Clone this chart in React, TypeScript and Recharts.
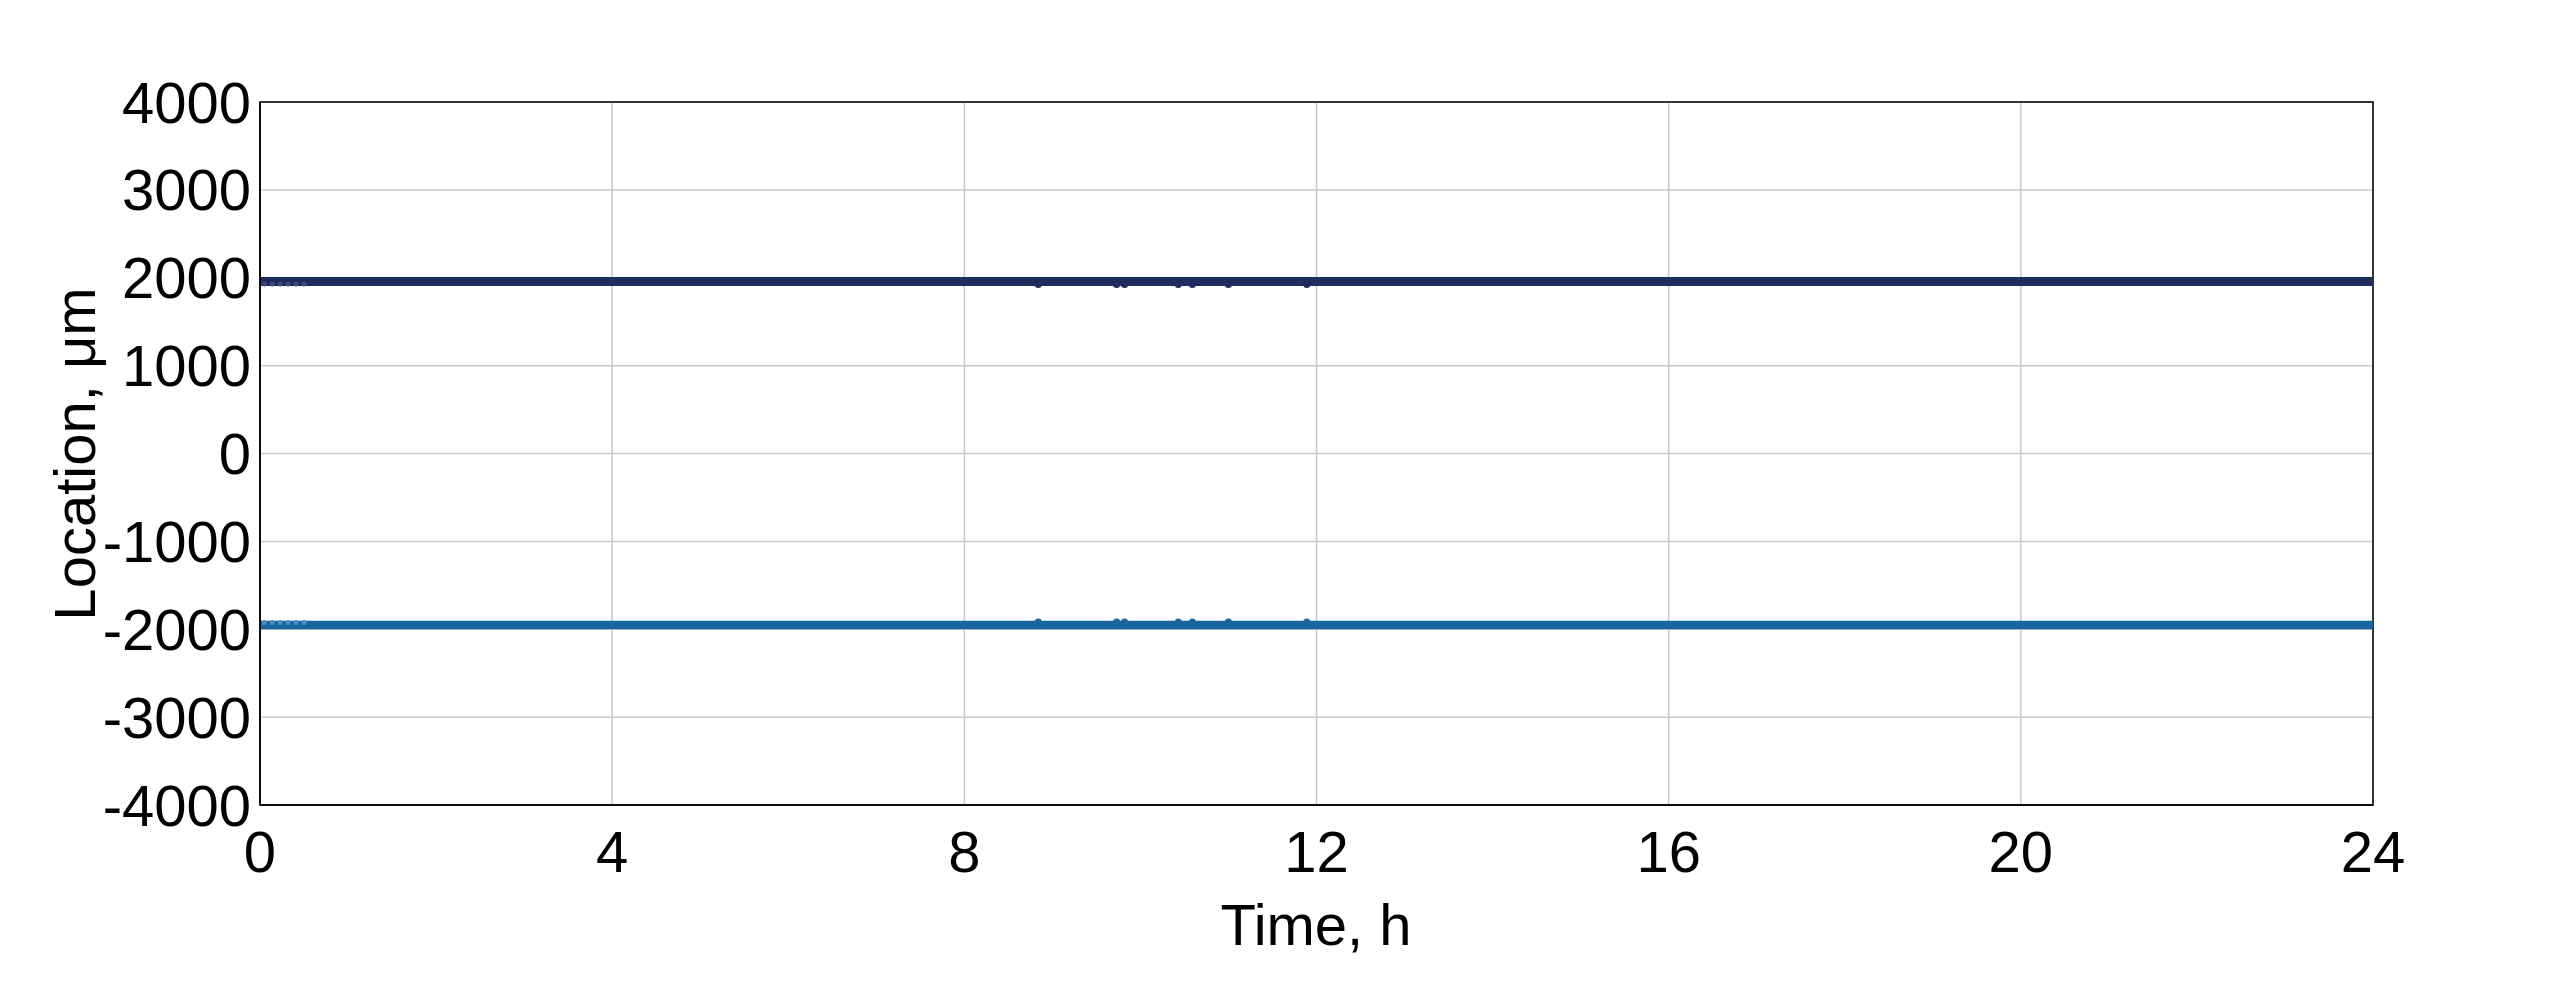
import { ComposedChart, Line, Scatter, XAxis, YAxis, CartesianGrid, ReferenceArea } from "recharts";

// Time axis, hours
const xTicks = [0, 4, 8, 12, 16, 20, 24];
// Location axis, µm
const yTicks = [-4000, -3000, -2000, -1000, 0, 1000, 2000, 3000, 4000];

// two tracked edges, flat over the whole run
const lineTimes = [0, 24];
const upperEdge = [1958, 1958];
const lowerEdge = [-1951, -1951];

// small deviations
const dipTimes = [8.84, 9.73, 9.82, 10.43, 10.59, 11.0, 11.89];
const upperDips = [1924, 1924, 1924, 1924, 1924, 1924, 1924];
const lowerDips = [-1917, -1917, -1917, -1917, -1917, -1917, -1917];

const earlyTimes = [0.05, 0.14, 0.23, 0.32, 0.41, 0.5];
const upperEarly = [1930, 1930, 1930, 1930, 1930, 1930];
const lowerEarly = [-1922, -1922, -1922, -1922, -1922, -1922];

const UPPER = "#1f2d5e";
const LOWER = "#1766a0";
const FONT = "'Liberation Sans', Arial, sans-serif";

const zip = (ts: number[], ys: number[]) => ts.map((t, i) => ({ t, y: ys[i] }));

const upperData = zip(lineTimes, upperEdge);
const lowerData = zip(lineTimes, lowerEdge);
const upperDipData = zip(dipTimes, upperDips);
const lowerDipData = zip(dipTimes, lowerDips);
const upperEarlyData = zip(earlyTimes, upperEarly);
const lowerEarlyData = zip(earlyTimes, lowerEarly);

const tickStyle = { fill: "#000", fontSize: 58, fontFamily: FONT };

const dot = (color: string, r: number) => (p: any) => <circle cx={p.cx} cy={p.cy} r={r} fill={color} />;

export default function App() {
  return (
    <div style={{ position: "absolute", left: 0, top: 0, background: "#fff", fontFamily: FONT }}>
      <ComposedChart width={2550} height={990} margin={{ top: 102, right: 177, bottom: 0, left: 0 }}>
        <CartesianGrid stroke="#c8c8c8" strokeWidth={1.5} verticalValues={xTicks} horizontalValues={yTicks} />
        <XAxis
          type="number" dataKey="t" domain={[0, 24]} ticks={xTicks} height={185}
          axisLine={{ stroke: "#000", strokeWidth: 1.5 }} tickLine={false} tickSize={0} tickMargin={26}
          tick={tickStyle} allowDataOverflow
          label={{
            content: () => (
              <text x={1316} y={945} textAnchor="middle" fontSize={58} fontFamily={FONT} fill="#000">Time, h</text>
            ),
          }}
        />
        <YAxis
          type="number" dataKey="y" domain={[-4000, 4000]} ticks={yTicks} width={260}
          axisLine={{ stroke: "#000", strokeWidth: 1.5 }} tickLine={false} tickSize={0} tickMargin={9}
          tick={tickStyle} allowDataOverflow interval={0}
          label={{
            content: () => (
              <text x={95} y={454} transform="rotate(-90 95 454)" textAnchor="middle" fontSize={58} fontFamily={FONT} fill="#000">
                Location, μm
              </text>
            ),
          }}
        />
        <ReferenceArea x1={0} x2={24} y1={-4000} y2={4000} fill="none" stroke="#000" strokeWidth={1.5} ifOverflow="visible" />
        <Line data={upperData} dataKey="y" stroke={UPPER} strokeWidth={9} dot={false} isAnimationActive={false} />
        <Line data={lowerData} dataKey="y" stroke={LOWER} strokeWidth={8.5} dot={false} isAnimationActive={false} />
        <Scatter data={upperDipData} dataKey="y" fill={UPPER} shape={dot(UPPER, 3.5)} isAnimationActive={false} />
        <Scatter data={lowerDipData} dataKey="y" fill={LOWER} shape={dot(LOWER, 3.5)} isAnimationActive={false} />
        <Scatter data={upperEarlyData} dataKey="y" fill="#3d4a78" shape={dot("#3d4a78", 2.5)} isAnimationActive={false} />
        <Scatter data={lowerEarlyData} dataKey="y" fill="#4a8cc0" shape={dot("#4a8cc0", 2.5)} isAnimationActive={false} />
      </ComposedChart>
    </div>
  );
}
